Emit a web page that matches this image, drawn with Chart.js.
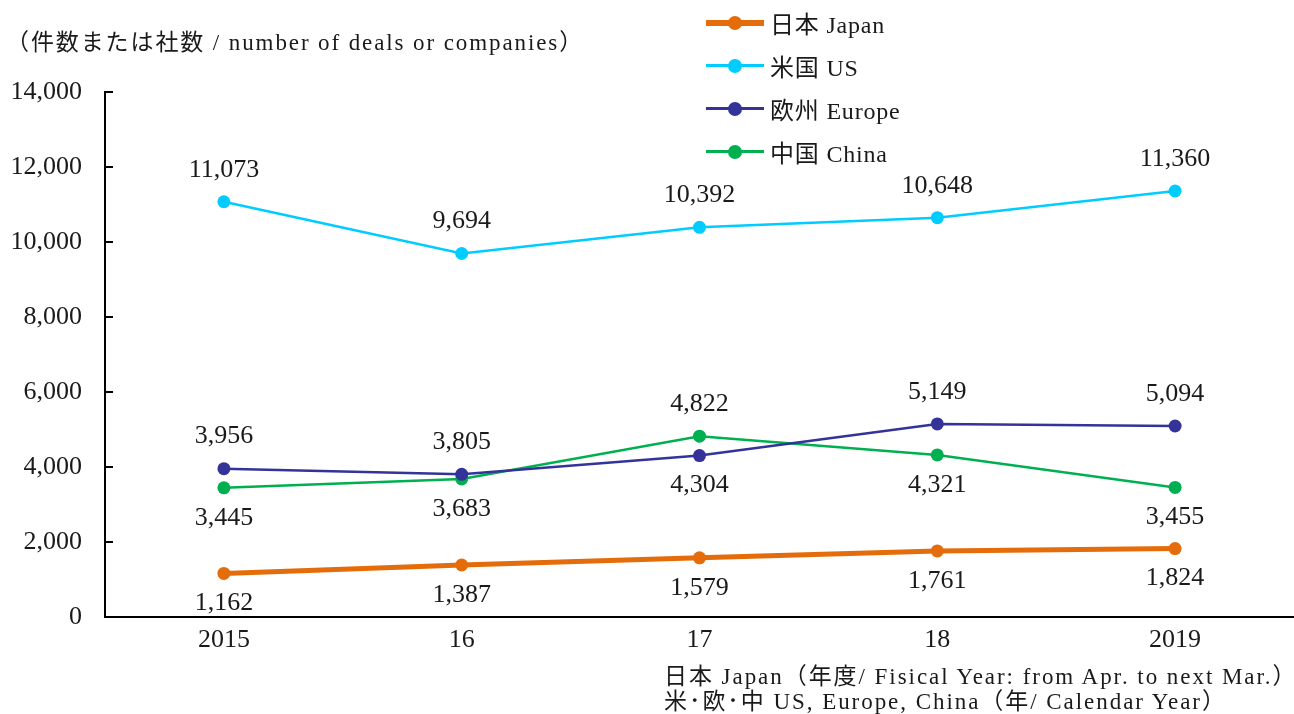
<!DOCTYPE html>
<html lang="ja">
<head>
    <meta charset="UTF-8">
    <title>件数または社数</title>
    <script src="https://cdn.jsdelivr.net/npm/chart.js"></script>
    <style>
        body {
            margin: 0;
            background: #fff;
            font-family: 'Liberation Serif', 'Noto Sans CJK JP', serif;
            color: #1a1a1a;
            overflow: hidden;
        }

        #wrap {
            position: relative;
            width: 1294px;
            height: 714px;
            overflow: hidden;
        }

        #yTitle {
            position: absolute;
            left: 6px;
            top: 23px;
            font-size: 23px;
            letter-spacing: 1.9px;
            white-space: nowrap;
        }

        #legend {
            position: absolute;
            left: 706px;
            top: 1px;
        }

        .leg-row {
            display: flex;
            align-items: center;
            height: 43px;
            font-size: 24px;
            letter-spacing: 0.8px;
        }

        .leg-mark {
            position: relative;
            width: 58px;
            height: 14px;
            margin-right: 6px;
        }

        .leg-mark .ln {
            position: absolute;
            left: 0;
            right: 0;
            top: 50%;
        }

        .leg-mark .dot {
            position: absolute;
            left: 22px;
            top: 0;
            width: 14px;
            height: 14px;
            border-radius: 50%;
        }

        #note {
            position: absolute;
            left: 664px;
            top: 664px;
            font-size: 23px;
            line-height: 25px;
            letter-spacing: 1.95px;
            white-space: nowrap;
        }
    </style>
</head>
<body>
    <div id="wrap">
        <canvas id="dealChart" width="1294" height="714"></canvas>
        <div id="yTitle">（件数または社数 / number of deals or companies）</div>
        <div id="legend"></div>
        <div id="note">日本 Japan（年度/ Fisical Year: from Apr. to next Mar.）<br>米･欧･中 US, Europe, China（年/ Calendar Year）</div>
    </div>

    <script>
        // データ
        const years = ['2015', '16', '17', '18', '2019'];
        const japan = [1162, 1387, 1579, 1761, 1824];
        const us = [11073, 9694, 10392, 10648, 11360];
        const europe = [3956, 3805, 4304, 5149, 5094];
        const china = [3445, 3683, 4822, 4321, 3455];
        const yTicks = [0, 2000, 4000, 6000, 8000, 10000, 12000, 14000];

        const FONT = "'Liberation Serif', 'Noto Sans CJK JP', serif";

        const series = [
            { label: '日本 Japan', data: japan, color: '#E46C0A', width: 5, labelPos: ['below', 'below', 'below', 'below', 'below'] },
            { label: '米国 US', data: us, color: '#00CCFF', width: 2.5, labelPos: ['above', 'above', 'above', 'above', 'above'] },
            { label: '欧州 Europe', data: europe, color: '#333399', width: 2.5, labelPos: ['above', 'above', 'below', 'above', 'above'] },
            { label: '中国 China', data: china, color: '#00B050', width: 2.5, labelPos: ['below', 'below', 'above', 'below', 'below'] }
        ];

        // 凡例 (HTML)
        const legend = document.getElementById('legend');
        series.forEach(s => {
            const row = document.createElement('div');
            row.className = 'leg-row';
            row.innerHTML =
                '<span class="leg-mark">' +
                '<span class="ln" style="height:' + (s.width + 1) + 'px;margin-top:-' + ((s.width + 1) / 2) + 'px;background:' + s.color + '"></span>' +
                '<span class="dot" style="background:' + s.color + '"></span>' +
                '</span><span>' + s.label + '</span>';
            legend.appendChild(row);
        });

        // データラベル
        const valueLabels = {
            id: 'valueLabels',
            afterDatasetsDraw(chart) {
                const ctx = chart.ctx;
                ctx.save();
                ctx.font = '26px ' + FONT;
                ctx.fillStyle = '#1a1a1a';
                ctx.textAlign = 'center';
                ctx.textBaseline = 'middle';
                chart.data.datasets.forEach((ds, i) => {
                    chart.getDatasetMeta(i).data.forEach((pt, j) => {
                        const off = ds.labelPos[j] === 'above' ? -32 : 30;
                        ctx.fillText(ds.data[j].toLocaleString('en-US'), pt.x, pt.y + off);
                    });
                });
                ctx.restore();
            }
        };

        // 内向きの目盛り
        const innerTicks = {
            id: 'innerTicks',
            afterDraw(chart) {
                const ctx = chart.ctx;
                const y = chart.scales.y;
                ctx.save();
                ctx.strokeStyle = '#000';
                ctx.lineWidth = 2;
                yTicks.forEach(v => {
                    if (v === 0) return;
                    const py = Math.round(y.getPixelForValue(v));
                    ctx.beginPath();
                    ctx.moveTo(y.right, py);
                    ctx.lineTo(y.right + 8, py);
                    ctx.stroke();
                });
                ctx.restore();
            }
        };

        new Chart(document.getElementById('dealChart'), {
            type: 'line',
            data: {
                labels: years,
                datasets: series.map(s => ({
                    label: s.label,
                    data: s.data,
                    borderColor: s.color,
                    backgroundColor: s.color,
                    pointBackgroundColor: s.color,
                    pointBorderWidth: 0,
                    borderWidth: s.width,
                    pointRadius: 6.5,
                    tension: 0,
                    labelPos: s.labelPos
                }))
            },
            options: {
                responsive: false,
                animation: false,
                layout: { autoPadding: false, padding: { top: 92, right: 0, left: 0, bottom: 0 } },
                plugins: {
                    legend: { display: false },
                    tooltip: { enabled: false }
                },
                scales: {
                    x: {
                        offset: true,
                        grid: { display: true, drawOnChartArea: false, drawTicks: false },
                        border: { display: true, color: '#000', width: 2 },
                        ticks: {
                            color: '#1a1a1a',
                            font: { family: FONT, size: 26 },
                            padding: 8,
                            maxRotation: 0
                        },
                        afterFit(scale) {
                            scale.height = 97;
                            scale.paddingLeft = 0;
                            scale.paddingRight = 0;
                        }
                    },
                    y: {
                        min: 0,
                        max: 14000,
                        grid: { display: true, drawOnChartArea: false, drawTicks: false },
                        border: { display: true, color: '#000', width: 2 },
                        afterBuildTicks(scale) {
                            scale.ticks = yTicks.map(v => ({ value: v }));
                        },
                        ticks: {
                            color: '#1a1a1a',
                            font: { family: FONT, size: 26 },
                            padding: 23,
                            callback: v => v.toLocaleString('en-US')
                        },
                        afterFit(scale) { scale.width = 105; }
                    }
                }
            },
            plugins: [valueLabels, innerTicks]
        });
    </script>
</body>
</html>
